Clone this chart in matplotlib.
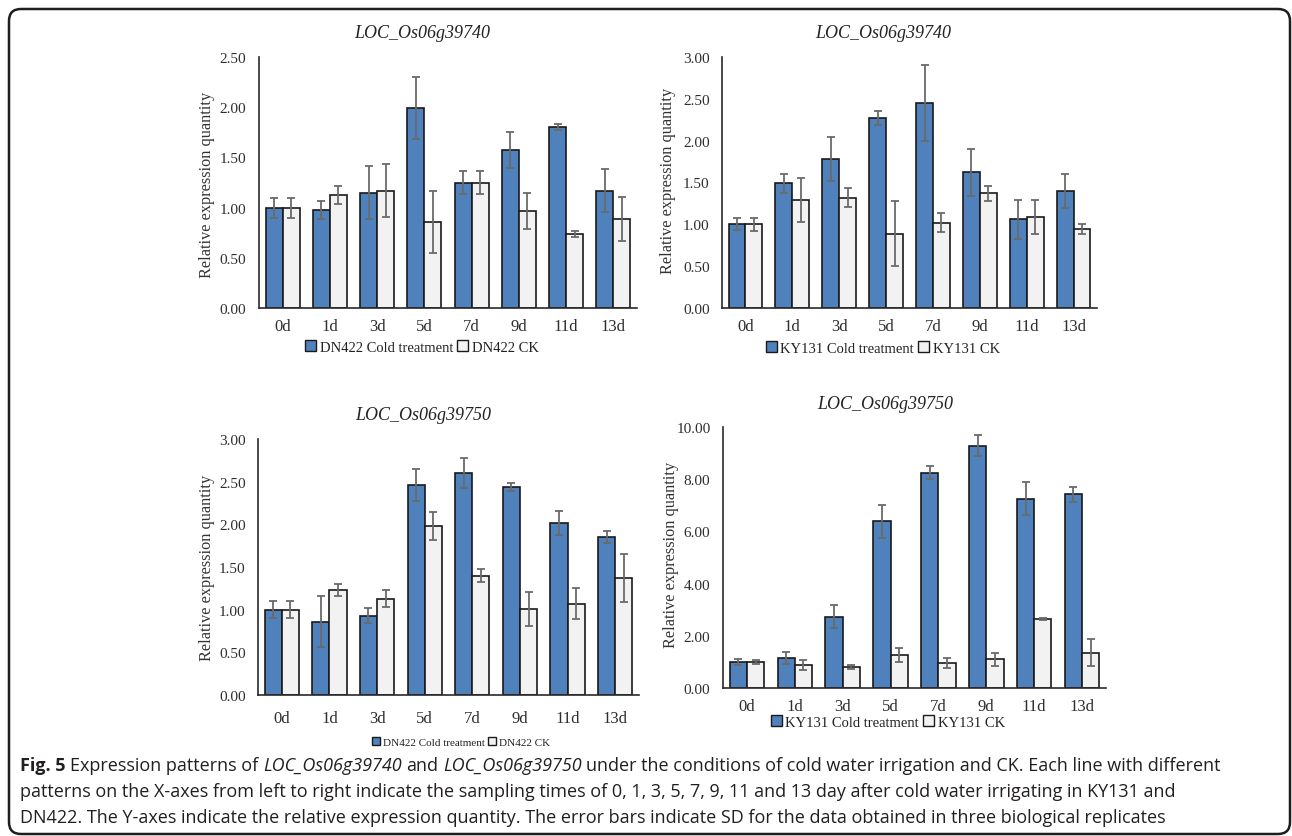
import numpy as np
import matplotlib
matplotlib.use('Agg')
import matplotlib.pyplot as plt
from matplotlib.patches import Patch, FancyBboxPatch
from matplotlib.transforms import IdentityTransform

days = ['0d', '1d', '3d', '5d', '7d', '9d', '11d', '13d']

# LOC_Os06g39740 in DN422
dn_39740_cold = [1.00, 0.98, 1.15, 1.99, 1.25, 1.57, 1.80, 1.17]
dn_39740_cold_sd = [0.10, 0.09, 0.26, 0.31, 0.11, 0.18, 0.03, 0.21]
dn_39740_ck = [1.00, 1.13, 1.17, 0.86, 1.25, 0.97, 0.74, 0.89]
dn_39740_ck_sd = [0.10, 0.09, 0.26, 0.31, 0.11, 0.18, 0.03, 0.22]

# LOC_Os06g39740 in KY131
ky_39740_cold = [1.00, 1.49, 1.78, 2.27, 2.45, 1.62, 1.06, 1.40]
ky_39740_cold_sd = [0.07, 0.11, 0.26, 0.08, 0.45, 0.28, 0.23, 0.20]
ky_39740_ck = [1.00, 1.29, 1.32, 0.89, 1.02, 1.37, 1.09, 0.94]
ky_39740_ck_sd = [0.08, 0.26, 0.11, 0.39, 0.11, 0.09, 0.20, 0.06]

# LOC_Os06g39750 in DN422
dn_39750_cold = [1.00, 0.86, 0.93, 2.46, 2.60, 2.44, 2.02, 1.85]
dn_39750_cold_sd = [0.10, 0.30, 0.09, 0.19, 0.18, 0.05, 0.14, 0.07]
dn_39750_ck = [1.00, 1.23, 1.13, 1.98, 1.40, 1.01, 1.07, 1.37]
dn_39750_ck_sd = [0.10, 0.065, 0.10, 0.16, 0.08, 0.20, 0.18, 0.28]

# LOC_Os06g39750 in KY131
ky_39750_cold = [1.00, 1.15, 2.73, 6.38, 8.25, 9.29, 7.25, 7.42]
ky_39750_cold_sd = [0.13, 0.22, 0.45, 0.62, 0.26, 0.40, 0.63, 0.30]
ky_39750_ck = [1.00, 0.88, 0.80, 1.27, 0.97, 1.10, 2.64, 1.35]
ky_39750_ck_sd = [0.08, 0.18, 0.08, 0.27, 0.19, 0.25, 0.05, 0.51]

W, H = 1292, 837
fig = plt.figure(figsize=(W / 100, H / 100), dpi=100)

serif = 'Liberation Serif'
blue = '#4f81bd'
grey = '#f2f2f2'
edge = '#1a1a1a'
errc = '#6a6a6a'

# pixel boxes: (left, right, top, bottom) of each plot area
panels = [
    dict(vals=(dn_39740_cold, dn_39740_cold_sd, dn_39740_ck, dn_39740_ck_sd),
         title='LOC_Os06g39740', names=('DN422 Cold treatment', 'DN422 CK'),
         ymax=2.5, step=0.5, box=(259, 637, 58, 309), title_xy=(422, 33),
         ylab_xy=(207, 185), leg_xy=(422, 348), leg_fs=10.5, pad=7),
    dict(vals=(ky_39740_cold, ky_39740_cold_sd, ky_39740_ck, ky_39740_ck_sd),
         title='LOC_Os06g39740', names=('KY131 Cold treatment', 'KY131 CK'),
         ymax=3.0, step=0.5, box=(722, 1097, 58, 309), title_xy=(883, 34),
         ylab_xy=(668, 181), leg_xy=(883, 349), leg_fs=10.5, pad=7),
    dict(vals=(dn_39750_cold, dn_39750_cold_sd, dn_39750_ck, dn_39750_ck_sd),
         title='LOC_Os06g39750', names=('DN422 Cold treatment', 'DN422 CK'),
         ymax=3.0, step=0.5, box=(258, 639, 440, 696), title_xy=(423, 415),
         ylab_xy=(207, 568), leg_xy=(461, 743), leg_fs=8, pad=11),
    dict(vals=(ky_39750_cold, ky_39750_cold_sd, ky_39750_ck, ky_39750_ck_sd),
         title='LOC_Os06g39750', names=('KY131 Cold treatment', 'KY131 CK'),
         ymax=10.0, step=2.0, box=(723, 1106, 428, 689), title_xy=(885, 405),
         ylab_xy=(671, 555), leg_xy=(888, 723), leg_fs=10.5, pad=7),
]

x = np.arange(len(days))
w = 0.36

for p in panels:
    l, r, t, b = p['box']
    ax = fig.add_axes([l / W, 1 - b / H, (r - l) / W, (b - t) / H])
    cold, cold_sd, ck, ck_sd = p['vals']
    ax.bar(x - w / 2, cold, w, color=blue, edgecolor=edge, linewidth=1.2, zorder=2)
    ax.bar(x + w / 2, ck, w, color=grey, edgecolor=edge, linewidth=1.2, zorder=2)
    ax.errorbar(x - w / 2, cold, yerr=cold_sd, fmt='none', ecolor=errc,
                elinewidth=1.3, capsize=3, capthick=1.3, zorder=3)
    ax.errorbar(x + w / 2, ck, yerr=ck_sd, fmt='none', ecolor=errc,
                elinewidth=1.3, capsize=3, capthick=1.3, zorder=3)
    ax.set_xlim(-0.5, len(days) - 0.5)
    ax.set_ylim(0, p['ymax'])
    ax.set_yticks(np.arange(0, p['ymax'] + 1e-9, p['step']))
    ax.yaxis.set_major_formatter(matplotlib.ticker.FormatStrFormatter('%.2f'))
    ax.set_xticks(x)
    ax.set_xticklabels(days)
    ax.tick_params(length=0, colors='#2e2e2e')
    ax.tick_params(axis='y', pad=9, labelsize=11)
    ax.tick_params(axis='x', pad=p['pad'], labelsize=12)
    for lab in ax.get_xticklabels() + ax.get_yticklabels():
        lab.set_fontfamily(serif)
    for s in ['top', 'right']:
        ax.spines[s].set_visible(False)
    for s in ['left', 'bottom']:
        ax.spines[s].set_color('#2a2a2a')
        ax.spines[s].set_linewidth(1.2)

    tx, ty = p['title_xy']
    fig.text(tx / W, 1 - ty / H, p['title'], ha='center', va='center',
             family=serif, style='italic', fontsize=13, color='#222222')
    lx, ly = p['ylab_xy']
    fig.text(lx / W, 1 - ly / H, 'Relative expression quantity', ha='center',
             va='center', rotation=90, family=serif, fontsize=11.7, color='#333333')
    handles = [Patch(facecolor=blue, edgecolor=edge, linewidth=1),
               Patch(facecolor=grey, edgecolor=edge, linewidth=1)]
    gx, gy = p['leg_xy']
    fig.legend(handles, p['names'], loc='center', bbox_to_anchor=(gx / W, 1 - gy / H),
               ncol=2, frameon=False, handlelength=0.75, handleheight=0.75,
               handletextpad=0.25, columnspacing=0.3, borderpad=0,
               prop={'family': serif, 'size': p['leg_fs']}, labelcolor='#222222')

# frame around the whole figure
frame = FancyBboxPatch((9, 2), 1281, 825, boxstyle='round,pad=0,rounding_size=12',
                       transform=IdentityTransform(), fill=False, lw=1.8,
                       ec='#1e1e1e')
fig.add_artist(frame)

# caption
cap_lines = [
    [('Fig. 5', 'bold', 'normal'), (' Expression patterns of ', 'normal', 'normal'),
     ('LOC_Os06g39740', 'normal', 'italic'), (' and ', 'normal', 'normal'),
     ('LOC_Os06g39750', 'normal', 'italic'),
     (' under the conditions of cold water irrigation and CK. Each line with different',
      'normal', 'normal')],
    [('patterns on the X-axes from left to right indicate the sampling times of 0, 1, 3, 5, 7, 9, '
      '11 and 13 day after cold water irrigating in KY131 and', 'normal', 'normal')],
    [('DN422. The Y-axes indicate the relative expression quantity. The error bars indicate SD '
      'for the data obtained in three biological replicates', 'normal', 'normal')],
]
cap_y = [766, 792, 818]
cap_fs = 13.0
cap_font = 'Open Sans'
renderer = fig.canvas.get_renderer()


def text_w(s, **kw):
    tt = fig.text(0, 0, s, transform=IdentityTransform(), **kw)
    ww = tt.get_window_extent(renderer).width
    tt.remove()
    return ww


sp = text_w('x x', family=cap_font, fontsize=cap_fs) - text_w('xx', family=cap_font, fontsize=cap_fs)
for line, yy in zip(cap_lines, cap_y):
    cx = 20
    for s, wt, st in line:
        kw = dict(family=cap_font, fontsize=cap_fs, weight=wt, style=st)
        core = s.strip(' ')
        cx += sp * (len(s) - len(s.lstrip(' ')))
        tt = fig.text(cx, H - yy, core, transform=IdentityTransform(), va='center',
                      color='#231f20', **kw)
        cx += tt.get_window_extent(renderer).width
        cx += sp * (len(s) - len(s.rstrip(' ')))

fig.savefig('out.png', dpi=100)
